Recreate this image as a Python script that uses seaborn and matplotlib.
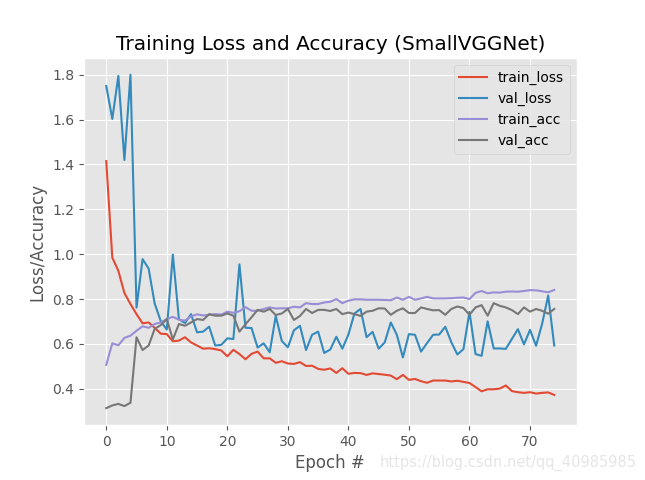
import numpy as np
import pandas as pd
import seaborn as sns
import matplotlib
matplotlib.use("Agg")
import matplotlib.pyplot as plt

# values (75 epochs)
train_loss = [1.415, 0.985, 0.926, 0.827, 0.778, 0.733, 0.692, 0.696, 0.672, 0.646,
              0.644, 0.612, 0.615, 0.630, 0.607, 0.593, 0.579, 0.581, 0.577, 0.571,
              0.545, 0.574, 0.555, 0.532, 0.556, 0.566, 0.536, 0.536, 0.516, 0.523,
              0.513, 0.511, 0.519, 0.502, 0.503, 0.489, 0.485, 0.491, 0.471, 0.492,
              0.467, 0.471, 0.470, 0.462, 0.469, 0.466, 0.463, 0.459, 0.443, 0.462,
              0.440, 0.444, 0.434, 0.427, 0.437, 0.437, 0.437, 0.433, 0.436, 0.431,
              0.426, 0.408, 0.389, 0.398, 0.398, 0.401, 0.415, 0.390, 0.385, 0.382,
              0.385, 0.379, 0.382, 0.384, 0.373]
val_loss = [1.750, 1.603, 1.795, 1.420, 1.800, 0.762, 0.978, 0.936, 0.780, 0.702,
            0.664, 0.998, 0.711, 0.693, 0.733, 0.652, 0.655, 0.677, 0.593, 0.596,
            0.625, 0.622, 0.955, 0.672, 0.671, 0.584, 0.603, 0.563, 0.725, 0.613,
            0.585, 0.661, 0.681, 0.573, 0.641, 0.655, 0.560, 0.575, 0.632, 0.579,
            0.642, 0.736, 0.756, 0.630, 0.654, 0.579, 0.607, 0.696, 0.641, 0.540,
            0.644, 0.641, 0.566, 0.604, 0.641, 0.642, 0.677, 0.608, 0.553, 0.577,
            0.743, 0.555, 0.547, 0.701, 0.580, 0.580, 0.578, 0.622, 0.666, 0.598,
            0.663, 0.592, 0.690, 0.816, 0.593]
train_acc = [0.507, 0.603, 0.594, 0.627, 0.637, 0.659, 0.679, 0.672, 0.689, 0.696,
             0.711, 0.721, 0.708, 0.704, 0.723, 0.732, 0.727, 0.730, 0.733, 0.731,
             0.744, 0.739, 0.746, 0.764, 0.748, 0.748, 0.756, 0.763, 0.758, 0.759,
             0.759, 0.766, 0.763, 0.782, 0.778, 0.778, 0.785, 0.788, 0.800, 0.782,
             0.793, 0.799, 0.799, 0.797, 0.797, 0.797, 0.796, 0.795, 0.807, 0.797,
             0.810, 0.797, 0.803, 0.810, 0.803, 0.803, 0.803, 0.804, 0.806, 0.807,
             0.800, 0.828, 0.836, 0.826, 0.830, 0.829, 0.833, 0.834, 0.833, 0.836,
             0.840, 0.839, 0.835, 0.830, 0.841]
val_acc = [0.314, 0.326, 0.333, 0.323, 0.338, 0.630, 0.573, 0.593, 0.667, 0.684,
           0.711, 0.620, 0.689, 0.681, 0.696, 0.711, 0.707, 0.733, 0.726, 0.726,
           0.736, 0.726, 0.655, 0.688, 0.719, 0.752, 0.744, 0.756, 0.729, 0.736,
           0.756, 0.707, 0.725, 0.756, 0.738, 0.752, 0.752, 0.747, 0.756, 0.733,
           0.740, 0.733, 0.725, 0.744, 0.748, 0.759, 0.758, 0.730, 0.748, 0.759,
           0.738, 0.738, 0.763, 0.756, 0.750, 0.751, 0.730, 0.756, 0.767, 0.760,
           0.730, 0.763, 0.773, 0.726, 0.782, 0.770, 0.763, 0.751, 0.733, 0.763,
           0.744, 0.756, 0.748, 0.735, 0.756]

epochs = np.arange(len(train_loss))
series = {"train_loss": train_loss, "val_loss": val_loss,
          "train_acc": train_acc, "val_acc": val_acc}

df = pd.concat([pd.DataFrame({"epoch": epochs, "value": v, "metric": k})
                for k, v in series.items()], ignore_index=True)

plt.style.use("ggplot")
fig, ax = plt.subplots(figsize=(6.45, 4.8), dpi=100)
plt.subplots_adjust(left=0.13, right=0.894, bottom=0.115, top=0.879)

palette = ["#E24A33", "#348ABD", "#988ED5", "#777777"]
sns.lineplot(data=df, x="epoch", y="value", hue="metric", palette=palette,
             linewidth=1.5, ax=ax)

ax.set_title("Training Loss and Accuracy (SmallVGGNet)")
ax.set_xlabel("Epoch #")
ax.set_ylabel("Loss/Accuracy")
ax.set_xticks(range(0, 71, 10))
ax.legend(loc="upper right")

fig.text(0.987, 0.028, "https://blog.csdn.net/qq_40985985", ha="right",
         fontsize=10.5, color="#e6e6e6")

plt.savefig("out.png", dpi=100)
